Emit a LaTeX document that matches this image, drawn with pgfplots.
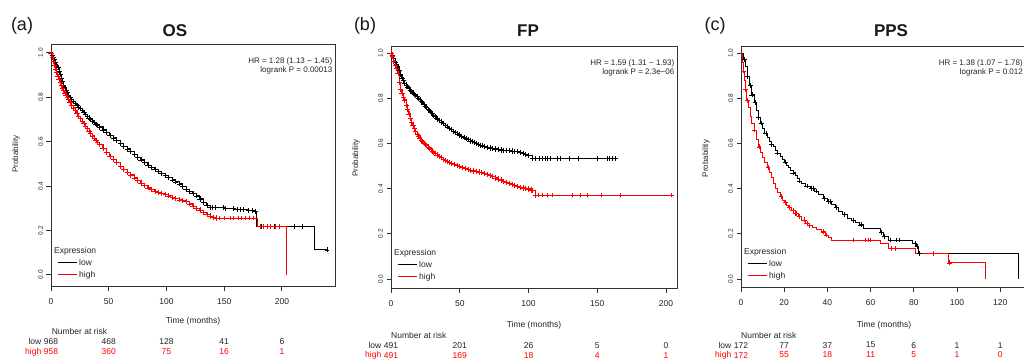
\documentclass[border=0pt]{standalone}
\usepackage{pgfplots}
\pgfplotsset{compat=1.18}
\usepackage{fontspec}
\setmainfont{Liberation Sans}
\definecolor{kmred}{RGB}{255,0,0}
\definecolor{axgray}{RGB}{50,50,50}
\definecolor{txtgray}{RGB}{35,35,35}
\newcommand{\tickfont}{\fontsize{8.5bp}{10bp}\selectfont}
\newcommand{\ytickfont}{\fontsize{6.5bp}{8bp}\selectfont}
\newcommand{\smallfont}{\fontsize{8.5bp}{10bp}\selectfont}
\newcommand{\hrfont}{\fontsize{8bp}{8.5bp}\selectfont}
\newcommand{\labfont}{\fontsize{8bp}{9bp}\selectfont}
\pgfplotsset{
  km/.style={
    scale only axis,
    anchor=south west,
    axis line style={axgray, line width=0.8bp},
    tick style={axgray, line width=0.8bp},
    tick align=outside,
    tick pos=left,
    major tick length=4.5bp,
    ytick={0,0.2,0.4,0.6,0.8,1},
    yticklabels={0.0,0.2,0.4,0.6,0.8,1.0},
    yticklabel style={rotate=90, anchor=south, font=\ytickfont, text=txtgray},
    xticklabel style={font=\tickfont, text=txtgray, yshift=-4.5bp},
    /pgf/number format/assume math mode=true,
    clip=false,
    legend cell align=left,
    legend style={at={(rel axis cs:0,0)}, anchor=south west, xshift=3bp, yshift=3bp,
      draw=none, fill=none, font=\smallfont, text=txtgray, row sep=0.5bp},
    legend image code/.code={\draw[#1, line width=1bp] (0bp,0bp) -- (19bp,0bp);},
  },
  dense/.style={const plot, line width=1.1bp, mark=+, mark size=2.6bp, mark options={line width=0.7bp}, forget plot},
  tail/.style={const plot, line width=0.7bp, no marks, forget plot},
  cens/.style={only marks, mark=+, mark size=2.4bp, mark options={line width=0.6bp}, forget plot},
}
\begin{document}
\begin{tikzpicture}
\useasboundingbox (0,0) rectangle (1024bp,361bp);
% ---------------- (a) OS ----------------
\begin{axis}[km, at={(51bp,75bp)}, width=284bp, height=242bp,
  xmin=0, xmax=246, ymin=-0.05, ymax=1.04, xtick={0,50,100,150,200}]
\addplot[black, dense] coordinates {(0,1)(1,0.99)(2,0.98)(3,0.97)(4,0.958)(5,0.946)(6,0.933)(7,0.918)(8,0.902)(9,0.886)(10,0.87)(11,0.855)(12,0.842)(13,0.83)(14,0.82)(15,0.81)(16.5,0.8)(18,0.79)(19.5,0.781)(21,0.772)(22.5,0.764)(24,0.756)(25.5,0.748)(27,0.74)(28.5,0.731)(30,0.722)(31.5,0.714)(33,0.707)(34.5,0.7)(36,0.693)(37.5,0.686)(39,0.679)(40.5,0.672)(42,0.666)(45,0.653)(48,0.641)(51,0.629)(54,0.617)(57,0.605)(60,0.592)(63,0.58)(66,0.567)(69,0.555)(72,0.543)(75,0.53)(78,0.518)(81,0.505)(84,0.494)(87,0.484)(90,0.475)(93,0.466)(96,0.457)(99,0.448)(102,0.438)(105,0.428)(108,0.419)(111,0.41)(114,0.398)(117,0.386)(120,0.375)(123,0.366)(126,0.356)(129,0.342)(132,0.327)(135,0.312)(138,0.303)};
\addplot[black, tail] coordinates {(138,0.303)(150,0.299)(160,0.294)(170,0.29)(176,0.286)(178,0.218)(228,0.113)(239,0.113)};
\addplot[black, cens] coordinates {(140,0.303)(142,0.303)(149,0.303)(151,0.299)(158,0.299)(161,0.294)(164,0.294)(167,0.294)(171,0.29)(174,0.29)(177,0.286)(182,0.218)(184,0.218)(187,0.218)(190,0.218)(193,0.218)(198,0.218)(211,0.218)(218,0.218)(239,0.113)};
\addplot[kmred, dense] coordinates {(0,1)(1,0.982)(2,0.963)(3,0.945)(4,0.928)(5,0.911)(6,0.895)(7,0.881)(8,0.867)(9,0.854)(10,0.841)(11,0.829)(12,0.818)(13,0.808)(14,0.799)(15,0.79)(16.5,0.777)(18,0.765)(19.5,0.752)(21,0.74)(22.5,0.727)(24,0.714)(25.5,0.703)(27,0.692)(28.5,0.681)(30,0.67)(31.5,0.659)(33,0.648)(34.5,0.637)(36,0.626)(37.5,0.616)(39,0.606)(40.5,0.597)(42,0.588)(45,0.57)(48,0.552)(51,0.535)(54,0.52)(57,0.505)(60,0.49)(63,0.476)(66,0.463)(69,0.45)(72,0.437)(75,0.425)(78,0.413)(81,0.402)(84,0.392)(87,0.384)(90,0.377)(93,0.372)(96,0.367)(99,0.362)(102,0.356)(105,0.35)(108,0.344)(111,0.338)(114,0.334)(117,0.33)(120,0.32)(123,0.31)(126,0.3)(129,0.292)(132,0.282)(135,0.272)(138,0.265)(141,0.26)(143,0.256)};
\addplot[kmred, tail] coordinates {(143,0.256)(179,0.218)(204,0)};
\addplot[kmred, cens] coordinates {(146,0.256)(150,0.256)(155,0.256)(158,0.256)(162,0.256)(165,0.256)(168,0.256)(172,0.256)(175,0.256)(181,0.218)(184,0.218)(187,0.218)(190,0.218)(194,0.218)(198,0.218)};
\addlegendimage{empty legend}\addlegendentry{\hspace{-25bp}Expression}
\addlegendimage{color=black}\addlegendentry{low}
\addlegendimage{color=kmred}\addlegendentry{high}
\node[anchor=north east, align=right, font=\hrfont, text=txtgray, inner sep=0pt, xshift=-2.5bp, yshift=-14bp] at (rel axis cs:1,1) {HR = 1.28 (1.13 − 1.45)\\logrank P = 0.00013};
\path (rel axis cs:0,0.5) ++(-35bp,0) node[rotate=90, font=\labfont, text=txtgray, inner sep=0pt] {Probability};
\node[font=\smallfont, text=txtgray, inner sep=0pt] at (axis cs:123,-0.208) {Time (months)};
\node[font=\smallfont, text=txtgray, inner sep=0pt, anchor=west] at (axis cs:0.5,-0.254) {Number at risk};
\begin{scope}[every node/.style={font=\smallfont, inner sep=0pt}]
\node[anchor=east, xshift=-9.5bp, text=txtgray] at (axis cs:0,-0.300) {low};
\node[text=txtgray] at (axis cs:0,-0.300) {968};
\node[text=txtgray] at (axis cs:50,-0.300) {468};
\node[text=txtgray] at (axis cs:100,-0.300) {128};
\node[text=txtgray] at (axis cs:150,-0.300) {41};
\node[text=txtgray] at (axis cs:200,-0.300) {6};
\node[anchor=east, xshift=-9.5bp, text=kmred] at (axis cs:0,-0.347) {high};
\node[text=kmred] at (axis cs:0,-0.347) {958};
\node[text=kmred] at (axis cs:50,-0.347) {360};
\node[text=kmred] at (axis cs:100,-0.347) {75};
\node[text=kmred] at (axis cs:150,-0.347) {16};
\node[text=kmred] at (axis cs:200,-0.347) {1};
\end{scope}
\end{axis}
% ---------------- (b) FP ----------------
\begin{axis}[km, at={(391bp,73bp)}, width=286bp, height=242bp,
  xmin=0, xmax=208, ymin=-0.04, ymax=1.031, xtick={0,50,100,150,200}]
\addplot[black, dense] coordinates {(0,1)(1,0.99)(2,0.975)(3,0.96)(4,0.948)(5,0.938)(6,0.922)(7,0.905)(8,0.89)(9,0.877)(10,0.866)(11,0.858)(12,0.85)(13,0.843)(14,0.836)(15,0.829)(16,0.823)(17,0.817)(18,0.812)(19,0.806)(20,0.8)(21,0.793)(22,0.787)(23,0.78)(24,0.772)(25,0.765)(26,0.758)(27,0.751)(28,0.745)(29,0.738)(30,0.731)(31,0.724)(32,0.718)(33,0.713)(34,0.708)(35,0.703)(36.5,0.695)(38,0.688)(39.5,0.68)(41,0.673)(42.5,0.666)(44,0.66)(45.5,0.654)(47,0.648)(48.5,0.642)(50,0.637)(51.5,0.631)(53,0.626)(54.5,0.621)(56,0.616)(57.5,0.611)(59,0.607)(60.5,0.603)(62,0.599)(63.5,0.595)(65,0.592)(66.5,0.589)(68,0.586)(70,0.583)(72,0.58)(74,0.577)(76,0.575)(78,0.573)(80,0.571)(82,0.57)(84,0.568)(86,0.567)(88,0.566)(90,0.565)(92,0.563)(94,0.56)(96,0.556)(98,0.551)(100,0.545)(103,0.534)};
\addplot[black, tail] coordinates {(103,0.534)(163,0.534)};
\addplot[black, cens] coordinates {(105,0.534)(108,0.534)(110,0.534)(112,0.534)(114,0.534)(116,0.534)(121,0.534)(123,0.534)(130,0.534)(136,0.534)(150,0.534)(157,0.534)(159,0.534)(161,0.534)(163,0.534)};
\addplot[kmred, dense] coordinates {(0,1)(1,0.985)(2,0.965)(3,0.945)(4,0.93)(5,0.91)(6,0.87)(7,0.84)(8,0.82)(9,0.805)(10,0.792)(11,0.77)(12,0.75)(13,0.73)(14,0.71)(15,0.692)(16,0.678)(17,0.665)(18,0.652)(19,0.642)(20,0.633)(21,0.624)(22,0.615)(23,0.607)(24,0.6)(25,0.595)(26,0.59)(27,0.584)(28,0.578)(29,0.572)(30,0.566)(31,0.561)(32,0.556)(33.5,0.549)(35,0.542)(36.5,0.536)(38,0.53)(39.5,0.525)(41,0.52)(42.5,0.516)(44,0.512)(46,0.507)(48,0.502)(50,0.497)(52,0.492)(54,0.488)(56,0.484)(58,0.481)(60,0.478)(62,0.475)(64,0.473)(66,0.47)(68,0.468)(70,0.463)(72,0.458)(74,0.452)(76,0.447)(78,0.442)(80,0.438)(82,0.433)(84,0.428)(86,0.423)(88,0.418)(90,0.413)(92,0.408)(94,0.405)(96,0.403)(98,0.4)(100,0.398)(102,0.394)(103,0.39)(105,0.372)};
\addplot[kmred, tail] coordinates {(105,0.372)(204,0.372)};
\addplot[kmred, cens] coordinates {(107,0.372)(110,0.372)(114,0.372)(117,0.372)(132,0.372)(138,0.372)(143,0.372)(153,0.372)(167,0.372)(204,0.372)};
\addlegendimage{empty legend}\addlegendentry{\hspace{-25bp}Expression}
\addlegendimage{color=black}\addlegendentry{low}
\addlegendimage{color=kmred}\addlegendentry{high}
\node[anchor=north east, align=right, font=\hrfont, text=txtgray, inner sep=0pt, xshift=-2.5bp, yshift=-14bp] at (rel axis cs:1,1) {HR = 1.59 (1.31 − 1.93)\\logrank P = 2.3e−06};
\path (rel axis cs:0,0.5) ++(-35bp,0) node[rotate=90, font=\labfont, text=txtgray, inner sep=0pt] {Probability};
\node[font=\smallfont, text=txtgray, inner sep=0pt] at (axis cs:104,-0.204) {Time (months)};
\node[font=\smallfont, text=txtgray, inner sep=0pt, anchor=west] at (axis cs:0,-0.248) {Number at risk};
\begin{scope}[every node/.style={font=\smallfont, inner sep=0pt}]
\node[anchor=east, xshift=-9.5bp, text=txtgray] at (axis cs:0,-0.295) {low};
\node[text=txtgray] at (axis cs:0,-0.295) {491};
\node[text=txtgray] at (axis cs:50,-0.295) {201};
\node[text=txtgray] at (axis cs:100,-0.295) {26};
\node[text=txtgray] at (axis cs:150,-0.295) {5};
\node[text=txtgray] at (axis cs:200,-0.295) {0};
\node[anchor=east, xshift=-9.5bp, text=kmred] at (axis cs:0,-0.339) {high};
\node[text=kmred] at (axis cs:0,-0.339) {491};
\node[text=kmred] at (axis cs:50,-0.339) {169};
\node[text=kmred] at (axis cs:100,-0.339) {18};
\node[text=kmred] at (axis cs:150,-0.339) {4};
\node[text=kmred] at (axis cs:200,-0.339) {1};
\end{scope}
\end{axis}
% ---------------- (c) PPS ----------------
\begin{axis}[km, at={(741bp,74bp)}, width=286bp, height=241bp,
  xmin=0, xmax=132.4, ymin=-0.035, ymax=1.031, xtick={0,20,40,60,80,100,120}]
\addplot[black, tail] coordinates {(0,1)(1,0.97)(2,0.94)(3,0.895)(4,0.855)(5,0.815)(6,0.78)(7,0.745)(8,0.715)(9,0.69)(10,0.668)(11,0.645)(12,0.625)(13,0.61)(14,0.597)(15,0.585)(16,0.57)(17,0.558)(18,0.545)(19,0.53)(20,0.518)(21,0.505)(22,0.495)(23,0.482)(24,0.47)(25,0.458)(26,0.446)(27,0.434)(28,0.423)(30,0.412)(32,0.402)(34,0.39)(36,0.375)(38,0.358)(40,0.342)(42,0.33)(43.5,0.318)(45,0.298)(47,0.285)(49,0.27)(51,0.26)(53,0.25)(55,0.24)(56.5,0.224)(64.5,0.205)(66,0.19)(68,0.173)(79.5,0.158)(81,0.143)(82.3,0.113)(128.5,0)};
\addplot[black, cens] coordinates {(1.5,0.97)(3,0.895)(4.5,0.855)(5,0.815)(6.5,0.78)(8,0.715)(9.5,0.69)(11.5,0.645)(14,0.597)(17,0.558)(20.5,0.518)(24,0.47)(27,0.434)(30.5,0.412)(32.5,0.402)(33.5,0.402)(35,0.39)(38.5,0.358)(40.5,0.342)(41.5,0.342)(44,0.318)(48,0.285)(52,0.26)(55.5,0.24)(65,0.205)(66.5,0.19)(69,0.173)(72,0.173)(73.5,0.173)(80.5,0.158)(81.5,0.143)(82.5,0.113)};
\addplot[kmred, tail] coordinates {(0,1)(0.5,0.96)(1,0.92)(1.5,0.88)(2,0.84)(2.6,0.79)(3.5,0.76)(4.3,0.72)(5,0.689)(6,0.66)(7,0.62)(8,0.585)(9,0.56)(10,0.54)(11,0.515)(12,0.495)(13,0.472)(14,0.45)(15,0.425)(16,0.402)(17,0.383)(18,0.365)(19,0.35)(20,0.338)(21,0.328)(22,0.318)(23.5,0.305)(25,0.29)(26.5,0.276)(28,0.262)(30,0.248)(31.5,0.237)(33,0.228)(35,0.218)(37,0.209)(39,0.195)(40.5,0.185)(42,0.173)(64.5,0.158)(68,0.136)(80.5,0.113)(96,0.072)(113.3,0)};
\addplot[kmred, cens] coordinates {(1.2,0.92)(2.2,0.84)(3,0.79)(6.3,0.66)(8.3,0.585)(12.5,0.495)(18.5,0.365)(20.5,0.338)(22.5,0.318)(24,0.305)(25,0.29)(25.7,0.29)(26.8,0.276)(29.5,0.262)(30.5,0.248)(31.8,0.237)(38,0.209)(39.5,0.195)(52,0.173)(57.5,0.173)(59,0.173)(60,0.173)(69.5,0.136)(71.5,0.136)(89,0.113)(96.5,0.072)};
\addlegendimage{empty legend}\addlegendentry{\hspace{-25bp}Expression}
\addlegendimage{color=black}\addlegendentry{low}
\addlegendimage{color=kmred}\addlegendentry{high}
\node[anchor=north east, align=right, font=\hrfont, text=txtgray, inner sep=0pt, xshift=-4bp, yshift=-14bp] at (rel axis cs:1,1) {HR = 1.38 (1.07 − 1.78)\\logrank P = 0.012};
\path (rel axis cs:0,0.5) ++(-35bp,0) node[rotate=90, font=\labfont, text=txtgray, inner sep=0pt] {Probability};
\node[font=\smallfont, text=txtgray, inner sep=0pt] at (axis cs:66.2,-0.204) {Time (months)};
\node[font=\smallfont, text=txtgray, inner sep=0pt, anchor=west] at (axis cs:0,-0.248) {Number at risk};
\begin{scope}[every node/.style={font=\smallfont, inner sep=0pt}]
\node[anchor=east, xshift=-9.5bp, text=txtgray] at (axis cs:0,-0.292) {low};
\node[text=txtgray] at (axis cs:0,-0.292) {172};
\node[text=txtgray] at (axis cs:20,-0.292) {77};
\node[text=txtgray] at (axis cs:40,-0.292) {37};
\node[text=txtgray] at (axis cs:60,-0.292) {15};
\node[text=txtgray] at (axis cs:80,-0.292) {6};
\node[text=txtgray] at (axis cs:100,-0.292) {1};
\node[text=txtgray] at (axis cs:120,-0.292) {1};
\node[anchor=east, xshift=-9.5bp, text=kmred] at (axis cs:0,-0.336) {high};
\node[text=kmred] at (axis cs:0,-0.336) {172};
\node[text=kmred] at (axis cs:20,-0.336) {55};
\node[text=kmred] at (axis cs:40,-0.336) {18};
\node[text=kmred] at (axis cs:60,-0.336) {11};
\node[text=kmred] at (axis cs:80,-0.336) {5};
\node[text=kmred] at (axis cs:100,-0.336) {1};
\node[text=kmred] at (axis cs:120,-0.336) {0};
\end{scope}
\end{axis}
% titles and panel letters
\node[font=\fontsize{18bp}{20bp}\selectfont, text=black!90] at (22bp,335bp) {(a)};
\node[font=\fontsize{18bp}{20bp}\selectfont, text=black!90] at (365bp,335bp) {(b)};
\node[font=\fontsize{18bp}{20bp}\selectfont, text=black!90] at (715bp,335bp) {(c)};
\node[font=\fontsize{17bp}{19bp}\selectfont\bfseries, text=black!90] at (175bp,330bp) {OS};
\node[font=\fontsize{17bp}{19bp}\selectfont\bfseries, text=black!90] at (528bp,330bp) {FP};
\node[font=\fontsize{17bp}{19bp}\selectfont\bfseries, text=black!90] at (891bp,330bp) {PPS};
\end{tikzpicture}
\end{document}
